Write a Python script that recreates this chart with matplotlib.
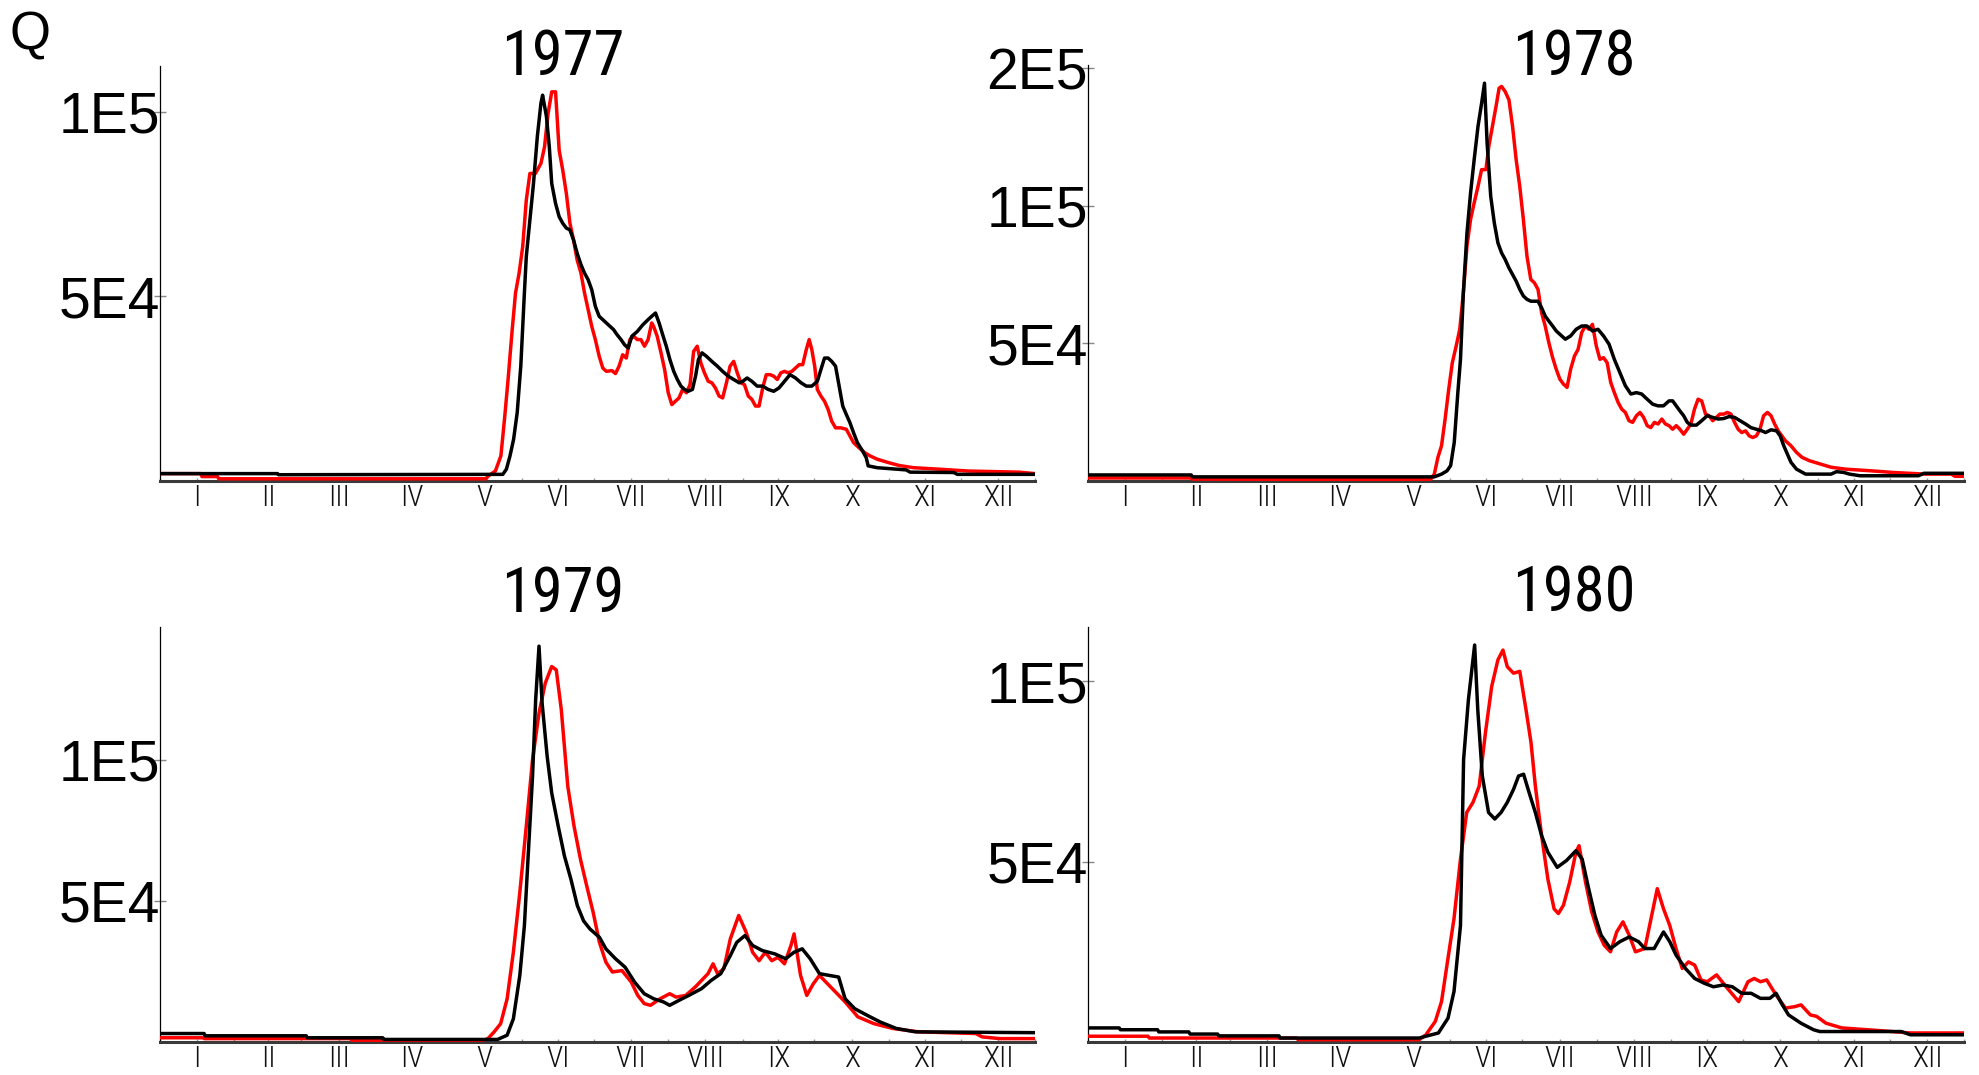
import matplotlib
matplotlib.use("Agg")
import matplotlib.pyplot as plt
import logging
logging.getLogger("matplotlib.font_manager").setLevel(logging.ERROR)

# ---------------- data ----------------
years = ["1977", "1978", "1979", "1980"]
month_labels = ["I", "II", "III", "IV", "V", "VI", "VII", "VIII", "IX", "X", "XI", "XII"]
month_mid = [15.5, 45, 74.5, 105, 135.5, 166, 196.5, 227.5, 258, 288.5, 319, 349.5]
month_start = [0, 31, 59, 90, 120, 151, 181, 212, 243, 273, 304, 334, 365]

yticks_1977 = [50000, 100000]
yticks_1978 = [50000, 100000, 150000]
yticks_1979 = [50000, 100000]
yticks_1980 = [50000, 100000]
ymax_1977, ymax_1978, ymax_1979, ymax_1980 = 112400, 151100, 147000, 115000

# (day of year, discharge)
red_1977 = [(0,2000),(17,2000),(17.5,1200),(24,1200),(24.5,600),(136,600),(136.9,1350),(139.9,2700),(142.2,6800),(143.7,16700),(145.2,27500),(146.8,40100),(148.3,50900),(149.8,56300),(151.3,63500),(152.8,76100),(154.3,83300),(156.6,83300),(158.9,86000),(160.4,90500),(161.9,99600),(163.4,105400),(165.0,105400),(166.5,89600),(168.0,84200),(169.5,77900),(171.0,69800),(172.5,65300),(174.0,59900),(175.6,56300),(177.1,50900),(178.6,46400),(180.1,41900),(181.6,38300),(183.2,33800),(184.7,30600),(186.2,29700),(188.5,29900),(190.0,29100),(191.5,31100),(193.0,34200),(194.5,33300),(196.0,38300),(197.6,39200),(199.1,38300),(200.6,38300),(202.1,36500),(203.6,38300),(205.1,42800),(205.9,41900),(207.4,39200),(209.0,34700),(210.5,30200),(212.0,23900),(213.5,20700),(215.0,21600),(216.5,22500),(218.0,24800),(219.6,23900),(221.1,26100),(222.6,35100),(224.1,36500),(225.6,32000),(227.1,29300),(228.7,27000),(230.2,26600),(231.7,25200),(233.2,23000),(234.7,22500),(236.3,26600),(237.8,31100),(239.3,32400),(240.8,29300),(242.3,26600),(243.8,26100),(245.4,23000),(246.9,22100),(248.4,20300),(249.9,20300),(251.4,25200),(252.9,28800),(254.5,28800),(256.0,28400),(257.5,27500),(259.0,29300),(260.5,29700),(262.0,29300),(263.6,29700),(265.1,30600),(266.6,31500),(268.1,31500),(269.6,35600),(270.8,38300),(271.9,35600),(273.1,31100),(274.2,24800),(275.7,23000),(277.2,21600),(278.7,19400),(280.2,16200),(281.8,14400),(284.0,14400),(286.3,14000),(287.8,12200),(289.3,10400),(291.6,9000),(293.9,7700),(296.2,6800),(299.2,5900),(303.8,5000),(308.3,4200),(314.4,3600),(325.0,3200),(337.1,2700),(358.4,2400),(365,2000)]
black_1977 = [(0,2000),(49,2000),(49.5,1700),(143,1800),(144.5,3200),(146,6800),(147.5,11300),(149,18500),(150.5,31100),(152,50900),(152.8,60800),(154.3,70700),(155.8,80600),(157.4,93300),(158.9,102300),(159.6,104500),(161.2,98700),(162.4,90500),(163.4,80600),(165,75200),(166.5,71600),(168,69800),(169.5,68500),(171,68000),(172.5,65300),(174,61700),(175.6,58600),(177.1,56300),(178.6,54500),(180.1,51800),(181.6,47300),(183.2,44600),(184.7,43700),(186.2,42800),(187.7,41900),(189.2,41000),(190.7,39600),(192.3,38300),(193.8,36900),(195.3,36000),(196.8,39200),(199.1,40500),(201.4,42300),(203.6,43700),(205.1,44600),(206.7,45500),(208.2,42800),(209.7,39600),(211.2,36500),(212.7,32900),(214.3,29700),(215.8,27500),(217.3,25700),(218.8,24800),(220.3,24300),(222.1,24800),(223.4,28400),(224.6,32900),(226.1,34700),(227.9,33800),(230.2,32400),(232.5,31100),(234.7,29700),(237,28400),(239.3,27500),(241.6,26600),(243.1,27000),(244.9,27900),(246.9,27000),(249.1,25700),(251.4,25700),(253.7,24800),(256,24300),(258.2,25200),(260.5,27000),(262.8,28800),(265.1,27900),(267.4,26600),(269.6,25700),(271.9,25700),(274.2,27000),(275.7,30200),(277.2,33300),(278.7,33300),(280.2,32400),(281.8,31100),(283.3,25700),(284.8,20300),(286.3,18000),(287.8,15800),(289.3,13100),(290.9,10400),(293.1,8100),(294.6,6300),(295.4,4100),(299.2,3600),(305.3,3300),(311.3,3000),(312.9,2400),(331.1,2300),(332.6,1800),(365,1800)]

red_1978 = [(0,1100),(43,1100),(43.5,700),(142.7,500),(144.3,2500),(145.8,8600),(147.3,12800),(148.8,22500),(150.3,33300),(151.8,43000),(153.4,49000),(154.9,55100),(156.4,68400),(157.9,85300),(159.4,95000),(160.9,101000),(162.5,107000),(164,113100),(165.8,113100),(167,121500),(168.5,128800),(170,136000),(171.3,142700),(172.3,143300),(173.8,141500),(175.4,138400),(176.9,128800),(178.4,116700),(179.9,107000),(181.4,95000),(182.9,81700),(184.5,73200),(186,72000),(187.5,69600),(189,61100),(190.5,56300),(192,50300),(193.6,44800),(195.1,40600),(196.6,37000),(198.1,35200),(199.6,34000),(201.1,40600),(202.7,45400),(204.2,47800),(205.7,53900),(207.2,56300),(208.7,55100),(210.2,56900),(211.8,49000),(213.3,44200),(214.8,44800),(216.3,43000),(217.8,35800),(219.3,32100),(220.9,28500),(222.4,26100),(223.9,24900),(225.4,21900),(226.9,21300),(228.5,23700),(230,24900),(231.5,23100),(233,20100),(234.5,19400),(236,21300),(237.5,20700),(239.1,22500),(240.6,20700),(242.1,20100),(243.6,18800),(245.1,20100),(246.6,18800),(248.2,17000),(249.7,18800),(251.2,20700),(252.7,26100),(254.2,29700),(255.7,29100),(257.3,24300),(258.8,23700),(260.3,21900),(261.8,23100),(263.3,24300),(264.9,24300),(266.4,24900),(267.9,24300),(269.4,21300),(270.9,18800),(272.4,17600),(274,18200),(275.5,16400),(277,15800),(278.5,16400),(280,18800),(281.5,23700),(283.1,24900),(284.6,23700),(286.1,20700),(287.6,18200),(289.1,16400),(290.6,14600),(292.9,12800),(295.2,10400),(297.5,8600),(300.5,7400),(305,6200),(309.6,5000),(315.7,4300),(326.3,3700),(335.4,3100),(349,2500),(359.7,2500),(361.2,1700),(365,1700)]
black_1978 = [(0,2200),(43,2200),(43.5,1500),(144.3,1500),(147.3,2500),(149.6,3700),(151.1,5600),(152.6,14000),(154.1,32100),(155.2,44200),(156.4,68400),(157.9,90100),(159.4,104600),(160.9,116700),(162.5,128800),(164,137200),(165.2,144500),(166.3,122700),(167.8,103400),(169.3,93700),(170.8,86500),(172.3,82900),(173.8,80500),(175.4,77400),(176.9,75000),(178.4,72600),(179.9,69600),(181.4,67200),(182.9,66000),(184.5,65300),(187.5,65300),(189,62900),(190.5,59900),(192,58100),(193.6,56300),(195.1,54500),(196.6,53300),(198.9,51500),(201.1,52700),(203.4,55100),(205.7,56300),(207.9,56300),(210.2,54500),(212.5,55100),(214.8,52700),(217.1,49700),(219.3,44200),(221.6,39400),(223.9,34600),(226.2,31600),(228.5,32100),(230.7,31600),(233,29700),(235.3,27900),(237.5,27300),(239.8,27300),(242.1,29100),(243.6,29100),(245.1,27300),(246.6,25500),(248.2,23700),(249.7,21300),(251.2,20300),(253.5,20300),(255.7,21900),(258,23700),(260.3,23100),(262.6,22500),(264.9,22700),(267.1,23400),(269.4,23100),(271.7,21900),(274,20700),(276.2,19400),(278.5,18800),(280.8,18200),(282.3,17600),(284.6,18600),(286.9,18200),(288.4,16400),(289.9,12800),(291.4,9800),(292.9,6800),(295.2,4300),(299,2500),(309.6,2500),(311.9,3400),(314.9,3100),(317.3,2500),(321.7,1900),(346,1900),(348.3,2800),(365,2800)]

red_1979 = [(0,1500),(18,1500),(18.5,1200),(79.6,1200),(80,650),(135,650),(136.8,1200),(139.4,3600),(142.1,6500),(144.8,15300),(147.4,31800),(150.1,53000),(152.8,76500),(155.4,100000),(158.1,116500),(160.7,127100),(163.4,133000),(165.3,131800),(167.4,117700),(170.1,90600),(172.7,76500),(175.4,64700),(178,55300),(180.7,45900),(183.3,35300),(186,28300),(188.7,24800),(192.7,25300),(196.6,21200),(199.3,16500),(202,13600),(204.6,13000),(208.6,15300),(212.6,17100),(215.3,15900),(219.3,16500),(223.3,19500),(225.9,21800),(228.6,24200),(230.7,27700),(232.6,24200),(235.2,25900),(237.9,36500),(241.4,44800),(244.5,38900),(247.2,31800),(249.9,28800),(252.5,31800),(255.2,28800),(257.8,30000),(260.5,27700),(263.2,34200),(264.5,38300),(267.2,23600),(269.8,16500),(272.5,20600),(275.1,23600),(277.8,21200),(281.8,17700),(285.8,14200),(291.1,8900),(297.8,6500),(305.7,4800),(316.4,3600),(340.3,3000),(343,1800),(350.4,1200),(365,1200)]
black_1979 = [(0,3000),(18.4,3000),(18.8,2200),(61,2200),(61.4,1500),(92.9,1500),(93.3,900),(140.8,900),(144.8,2400),(147.4,8200),(150.1,23600),(152,41200),(153.5,64700),(155.4,94100),(156.7,121200),(158.1,140200),(159.4,120000),(161.5,101200),(163.4,88200),(166.1,76500),(168.7,65900),(171.4,57700),(174.1,48300),(176.7,42900),(179.4,40000),(183.3,37100),(186,33000),(190,29500),(194,26500),(198,21200),(202,17100),(206,15300),(210,14200),(212.6,13000),(216.6,14800),(220.6,16500),(225.9,18900),(229.9,21800),(233.9,24200),(237.9,30600),(240.6,35300),(244,37700),(247.2,34200),(251.2,32400),(256.5,31200),(261,29500),(264.5,31800),(267.9,33000),(271.2,29500),(275.1,24200),(279.1,23600),(283.1,23000),(285.8,15300),(289.8,11800),(295.1,9400),(300.4,7100),(307.1,4800),(315.1,3600),(365,3300)]

red_1980 = [(0,1600),(25,1600),(25.5,1100),(87,1100),(87.5,650),(138,650),(140.8,2000),(144.7,5700),(147.3,11200),(150,23200),(152.5,34200),(155.2,50700),(157.8,63600),(160.4,66400),(163,70900),(165.6,85700),(168.2,98500),(170.8,105900),(172.9,108600),(174.7,104000),(177.3,102200),(179.9,102700),(182.5,92100),(184.6,82900),(186.4,70900),(189,57200),(191.6,45200),(194.2,36900),(196,35600),(198.1,37900),(200.7,44300),(203.3,52600),(204.6,54400),(207.3,44300),(209.9,36000),(212.5,30500),(215.1,26800),(217.7,25000),(220.3,30500),(222.9,33300),(225.5,29600),(228.1,25000),(232,25900),(234.6,34200),(237.2,42500),(239.8,36900),(242.4,32300),(245,25900),(247.6,20400),(250.2,22200),(252.8,21300),(255.4,17200),(258,16700),(261.9,18600),(265.9,15300),(271.1,11200),(275,16700),(277.6,17600),(280.2,16700),(282.8,17200),(286.7,13000),(290.6,9400),(294.5,9800),(297.1,10300),(301,7500),(303.6,7100),(307.5,5200),(314.1,3900),(331,3100),(342.7,2500),(365,2500)]
black_1980 = [(0,3900),(13,3900),(13.5,3400),(29,3400),(29.5,2800),(42,2800),(42.5,2200),(54,2200),(54.5,1700),(79.6,1700),(80,1100),(138,1100),(140.8,1600),(146,2500),(150,6600),(152.5,14000),(155.2,32300),(156.5,78300),(158.5,94800),(161.1,110000),(162.4,92100),(164.3,73700),(166.9,63600),(169.5,61800),(172.1,63600),(174.7,66400),(177.3,70000),(179.4,73700),(181.5,74200),(183.8,69100),(186.4,63600),(189,57200),(191.6,52600),(195.5,48400),(199.4,50300),(203.3,53000),(205.9,50700),(208.6,42500),(211.2,35100),(213.8,29600),(217.7,25900),(221.6,27800),(225.5,29100),(229.4,27800),(232,25900),(235.9,25900),(239.8,30500),(242.4,27800),(245,24100),(248.9,20400),(252.8,17600),(256.7,16300),(260.6,15300),(264.6,15800),(268.5,15300),(272.4,13500),(276.3,13500),(280.2,12100),(284.1,12100),(286.7,13500),(289.3,10300),(291.9,7500),(297.1,5200),(302.3,3400),(304.9,2900),(338.8,2900),(342.7,2000),(365,2000)]

# ---------------- layout ----------------
W, H = 1979, 1075
fig = plt.figure(figsize=(W / 100, H / 100), dpi=100)
fig.patch.set_facecolor("white")

narrow = ["Roboto Condensed", "Noto Sans Condensed", "Liberation Sans Narrow",
          "Arial Narrow", "Liberation Sans", "DejaVu Sans"]
regular = ["Liberation Sans", "Arial", "DejaVu Sans"]

panels = [
    (years[0], red_1977, black_1977, yticks_1977, ymax_1977, (160, 1035, 66, 481), (563, 75)),
    (years[1], red_1978, black_1978, yticks_1978, ymax_1978, (1088, 1964, 65, 481), (1574, 75)),
    (years[2], red_1979, black_1979, yticks_1979, ymax_1979, (160, 1035, 627, 1042), (563, 612)),
    (years[3], red_1980, black_1980, yticks_1980, ymax_1980, (1088, 1964, 627, 1042), (1574, 612)),
]


def fmt_e(v):
    m, e = f"{v:.0E}".split("E")
    return f"{m}E{int(e)}"


for title, red, black, yt, ymax, (l, r, t, b), (tx, ty) in panels:
    ax = fig.add_axes([l / W, 1 - b / H, (r - l) / W, (b - t) / H])
    rd, rv = zip(*red)
    bd, bv = zip(*black)
    ax.plot(rd, rv, color="#ff0000", lw=2.5, zorder=3)
    ax.plot(bd, bv, color="black", lw=2.5, zorder=4)
    ax.set_xlim(0, 365)
    ax.set_ylim(0, ymax)

    for s in ("top", "right"):
        ax.spines[s].set_visible(False)
    ax.spines["left"].set_linewidth(0.9)
    ax.spines["left"].set_color("black")
    ax.spines["bottom"].set_linewidth(2.2)
    ax.spines["bottom"].set_color("#3a3a3a")

    ax.set_yticks(yt)
    ax.set_yticklabels([fmt_e(v) for v in yt], fontfamily=regular, fontsize=41)
    ax.tick_params(axis="y", direction="inout", length=8.5, width=1.0,
                   color="#888888", pad=-4)

    ax.set_xticks(month_mid)
    ax.set_xticks(month_start, minor=True)
    ax.set_xticklabels(month_labels, fontfamily=narrow, fontsize=21.5,
                       fontweight="light", color="#111111")
    ax.tick_params(axis="x", which="both", direction="in", length=2.5, width=1.0,
                   color="#999999", pad=2.5)

    fig.text(tx / W, 1 - ty / H, title, ha="center", va="baseline",
             fontsize=45, family=narrow)

fig.text(10 / W, 1 - 49 / H, "Q", ha="left", va="baseline", fontsize=38, family=regular)

fig.savefig("out.png", dpi=100, facecolor="white")
